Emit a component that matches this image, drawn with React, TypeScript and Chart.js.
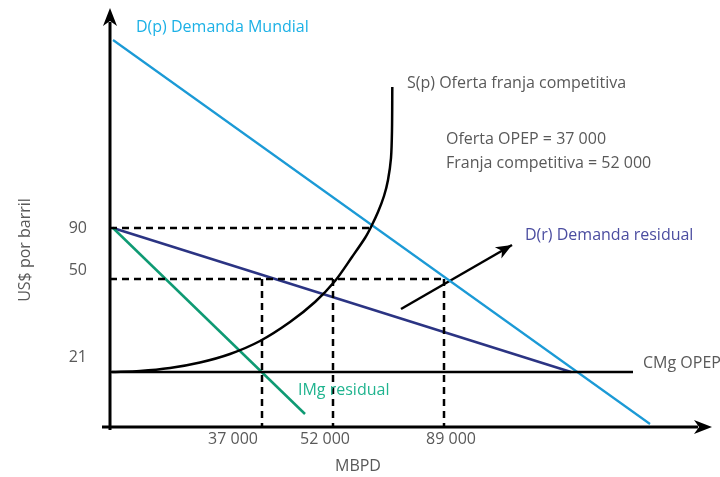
import React, { useEffect, useRef } from "react";
import { Chart, registerables } from "chart.js";

Chart.register(...registerables);

// Schematic diagram units (axes carry no numeric scale; only labelled levels)
const worldDemandQ = [3, 540];
const worldDemandP = [387, 3];
const residualDemandQ = [3, 461];
const residualDemandP = [199, 55];
const residualMRQ = [3, 195];
const residualMRP = [199, 13];
const opecMCQ = [0, 523];
const opecMCP = [55, 55];
const fringeSupplyQ = [2, 30, 60, 90, 120, 150, 180, 205, 225, 242, 255, 261, 268, 274, 278, 281, 282, 282.3];
const fringeSupplyP = [55, 56, 59, 64.5, 73, 86, 105, 125, 146, 170, 189, 200, 215, 231, 247, 269, 297, 340];
const shiftArrowQ = [291, 402];
const shiftArrowP = [118, 182];

// Dashed guide levels
const priceGuideP = [199, 148];
const priceGuideEndQ = [261, 334];
const quantityGuideQ = [152, 223, 334];
const quantityGuideTopP = [148, 148, 148];

// Tick labels
const priceTickLabels = ["90", "50", "21"];
const priceTickP = [199, 157, 70];
const quantityTickLabels = ["37 000", "52 000", "89 000"];
const quantityTickQ = [123, 215, 341];

const FONT = "'Open Sans', 'Noto Sans', sans-serif";
const GRAY = "#595959";

const pts = (xs: number[], ys: number[]) => xs.map((x, i) => ({ x, y: ys[i] }));

function arrowHead(ctx: CanvasRenderingContext2D, x: number, y: number, ang: number, len: number, half: number) {
  ctx.save();
  ctx.translate(x, y);
  ctx.rotate(ang);
  ctx.beginPath();
  ctx.moveTo(0, 0);
  ctx.lineTo(-len, -half);
  ctx.lineTo(-len * 0.72, 0);
  ctx.lineTo(-len, half);
  ctx.closePath();
  ctx.fillStyle = "#000";
  ctx.fill();
  ctx.restore();
}

const diagramPlugin = {
  id: "diagram",
  afterDatasetsDraw(chart: any) {
    const ctx: CanvasRenderingContext2D = chart.ctx;
    const xs = chart.scales.x;
    const ys = chart.scales.y;
    const X = (v: number) => xs.getPixelForValue(v);
    const Y = (v: number) => ys.getPixelForValue(v);

    ctx.save();
    // Axes
    ctx.strokeStyle = "#000";
    ctx.lineWidth = 3;
    ctx.beginPath();
    ctx.moveTo(X(0), Y(-3));
    ctx.lineTo(X(0), Y(405));
    ctx.moveTo(X(-8), Y(0));
    ctx.lineTo(X(588), Y(0));
    ctx.stroke();
    arrowHead(ctx, X(0), Y(419), -Math.PI / 2, 18, 7);
    arrowHead(ctx, X(602), Y(0), 0, 18, 7);

    // Shift arrow head
    const ax0 = X(shiftArrowQ[0]), ay0 = Y(shiftArrowP[0]);
    const ax1 = X(shiftArrowQ[1]), ay1 = Y(shiftArrowP[1]);
    arrowHead(ctx, ax1, ay1, Math.atan2(ay1 - ay0, ax1 - ax0), 16, 6.5);

    // Texts
    ctx.textBaseline = "middle";
    const text = (s: string, q: number, p: number, color: string, align: CanvasTextAlign = "left", size = 16) => {
      ctx.font = `${size}px ${FONT}`;
      ctx.fillStyle = color;
      ctx.textAlign = align;
      ctx.fillText(s, X(q), Y(p));
    };
    text("D(p) Demanda Mundial", 26, 400, "#1cb1e6");
    text("S(p) Oferta franja competitiva", 297, 344, GRAY);
    text("Oferta OPEP = 37 000", 336, 288, GRAY);
    text("Franja competitiva = 52 000", 336, 264, GRAY);
    text("D(r) Demanda residual", 415, 192, "#4b4da0");
    text("CMg OPEP", 533, 64, GRAY);
    text("IMg residual", 188, 37, "#20b48f");
    priceTickLabels.forEach((s, i) => text(s, -23, priceTickP[i], GRAY, "right"));
    quantityTickLabels.forEach((s, i) => text(s, quantityTickQ[i], -12, GRAY, "center"));
    text("MBPD", 248, -39, GRAY, "center");

    ctx.save();
    ctx.translate(X(-85), Y(177));
    ctx.rotate(-Math.PI / 2);
    ctx.font = `16px ${FONT}`;
    ctx.fillStyle = GRAY;
    ctx.textAlign = "center";
    ctx.fillText("US$ por barril", 0, 0);
    ctx.restore();

    ctx.restore();
  },
};

export default function App() {
  const ref = useRef<HTMLCanvasElement | null>(null);
  useEffect(() => {
    if (!ref.current) return;
    const dash = { borderColor: "#000", borderWidth: 2.5, borderDash: [7, 5] };
    const datasets: any[] = [];
    priceGuideP.forEach((p, i) =>
      datasets.push({ ...dash, data: pts([0, priceGuideEndQ[i]], [p, p]) })
    );
    quantityGuideQ.forEach((q, i) =>
      datasets.push({ ...dash, data: pts([q, q], [quantityGuideTopP[i], 0]) })
    );
    datasets.push(
      { data: pts(opecMCQ, opecMCP), borderColor: "#000", borderWidth: 2.5 },
      { data: pts(fringeSupplyQ, fringeSupplyP), borderColor: "#000", borderWidth: 2.5, tension: 0.3 },
      { data: pts(residualMRQ, residualMRP), borderColor: "#0e9a73", borderWidth: 2.5 },
      { data: pts(residualDemandQ, residualDemandP), borderColor: "#2b3483", borderWidth: 2.5 },
      { data: pts(worldDemandQ, worldDemandP), borderColor: "#1b9ad6", borderWidth: 2.2 },
      { data: pts(shiftArrowQ, shiftArrowP), borderColor: "#000", borderWidth: 2.5 }
    );
    datasets.forEach((d) => {
      d.showLine = true;
      d.pointRadius = 0;
      d.fill = false;
    });
    const chart = new Chart(ref.current, {
      type: "scatter",
      data: { datasets },
      options: {
        animation: false,
        responsive: false,
        maintainAspectRatio: false,
        layout: { padding: 0 },
        plugins: { legend: { display: false }, tooltip: { enabled: false } },
        scales: {
          x: { type: "linear", min: -110, max: 610, display: false },
          y: { type: "linear", min: -50, max: 427, display: false },
        },
      },
      plugins: [diagramPlugin],
    });
    return () => chart.destroy();
  }, []);
  return (
    <div style={{ position: "fixed", left: 0, top: 0, width: 720, height: 477, background: "#fff" }}>
      <canvas ref={ref} width={720} height={477} style={{ width: 720, height: 477 }} />
    </div>
  );
}
